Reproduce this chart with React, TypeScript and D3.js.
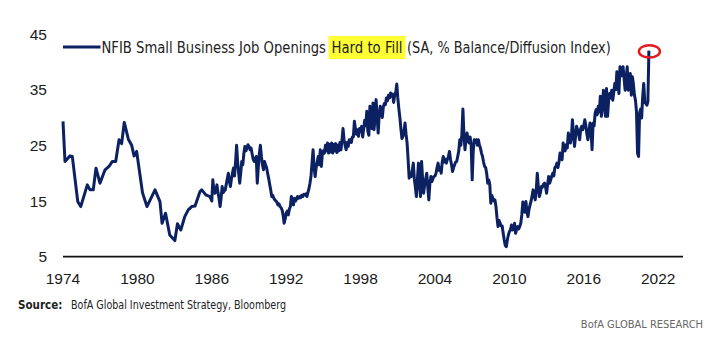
import React, { useMemo } from 'react';
import * as d3 from 'd3';

// quarterly-ish readings before the survey went monthly
const earlyDates = [
  1974.0, 1974.16, 1974.56, 1974.75, 1975.19, 1975.43, 1975.96, 1976.18, 1976.44, 1976.66,
  1976.98, 1977.39, 1977.71, 1977.98, 1978.25, 1978.52, 1978.73, 1978.94, 1979.27, 1979.54,
  1979.73, 1979.94, 1980.41, 1980.77, 1981.42, 1981.82, 1981.99, 1982.27, 1982.61, 1983.02,
  1983.23, 1983.5, 1983.82, 1984.1, 1984.38, 1984.65, 1985.05, 1985.19, 1985.52, 1985.85,
];
const earlyValues = [
  29.3, 22.1, 23.1, 23, 14.9, 14, 17.9, 17, 17, 20.9,
  18.2, 20.6, 21.2, 22.1, 22.1, 26, 25.3, 29.1, 26.1, 25,
  23.1, 23.9, 16.5, 14, 17, 14.9, 11, 12.8, 8.9, 7.9,
  10.9, 9.8, 12.2, 13.4, 14, 14.1, 16.7, 17, 16.1, 15.8,
];

const monthlyStart = 1986;
const monthly1986to1995 = [
  15, 18.8, 17, 16.4, 17, 17.9, 16.5, 15.5, 14, 15.5, 17.6, 16.5,
  16.8, 17, 18, 19, 20, 18.5, 17.6, 19, 20, 20.9, 19.5, 22,
  25, 22, 20, 18.2, 20, 22.1, 21.5, 23.5, 24.8, 24, 24.5, 25.1,
  24.8, 24.2, 24.5, 23.5, 22.5, 22.1, 22.5, 23, 18.2, 21, 23.5, 25,
  23, 21.5, 20.6, 22.1, 21.5, 21, 20, 19.1, 18, 17, 15.8, 16,
  15.5, 15.2, 15, 14.8, 14.3, 14.5, 14, 13.8, 13.4, 12.5, 11, 11.8,
  12.8, 13.2, 12.5, 13.5, 14, 15.8, 14.8, 14.3, 15.5, 15, 15.3, 15.8,
  15.5, 15.8, 15.6, 16, 15.8, 16.2, 16.1, 16.3, 15.8, 16.5, 17.2, 18.2,
  19.5, 21.8, 24.2, 21, 19.4, 21, 22, 23, 21.5, 24.2, 21.2, 23.5,
  24, 23.6, 25, 24, 25.4, 23.6, 25.2, 23.8, 25.4, 23.6, 25.2, 24,
];
const monthly1996to2005 = [
  25.3, 23.7, 25, 24, 25.5, 24.2, 26, 28, 26, 25, 24.2, 25.5,
  24.8, 26, 26, 25.5, 26.5, 26.5, 29.3, 28, 27, 27.8, 26.6, 28,
  27.5, 28.4, 26.5, 28, 29.5, 28.5, 31.1, 27.5, 26.8, 32, 30, 28,
  32.6, 27.8, 30, 33.2, 30, 27.2, 30.5, 32, 31.4, 30, 31.9, 32.5,
  32.3, 33.5, 33, 34, 33.5, 34.4, 33.8, 34.2, 32.7, 34, 34.5, 36,
  33.5, 31.6, 30, 28, 26.2, 26.6, 27.5, 29, 27, 25.4, 22.4, 19.1,
  20, 19.4, 20.5, 21.8, 19, 17.5, 15.8, 19, 21.8, 18, 15.8, 22.1,
  19, 16.4, 18, 19, 20, 17.5, 15.2, 18, 19.4, 18.5, 19, 19.4,
  19.5, 20, 21, 21.8, 20.5, 21, 20, 22, 23, 22, 22.5, 21.8,
  22.5, 23, 23.9, 22.5, 21.5, 20.3, 21, 21.5, 22, 22.1, 23, 24,
];
const monthly2006to2015 = [
  26, 25, 27, 31.5, 27, 24.2, 26, 27.2, 26, 25.4, 26.5, 25,
  18.8, 24, 26, 25.5, 26, 25, 26, 25, 24.5, 23.6, 23, 22,
  21.2, 21, 20, 18.2, 18.8, 18, 14.6, 16, 15.5, 15, 15.2, 14,
  12, 10.4, 11.5, 11, 10.5, 10.5, 9.2, 8, 7, 6.8, 8, 8.9,
  9.5, 9.8, 10.7, 9.8, 10, 11, 9.2, 10, 10.4, 10, 10.4, 11,
  12.5, 14.8, 13.5, 13, 14.9, 13, 12.2, 13.5, 14.3, 15, 16, 17,
  16, 15.2, 17, 20, 17.5, 15.8, 16.5, 17.6, 17.5, 18, 18.2, 17.5,
  16.4, 18, 19.4, 18.2, 18.8, 19.5, 20, 19.5, 21, 21.2, 21.8, 21,
  22, 23.6, 23, 22.4, 25.4, 24.5, 24, 25.1, 24.5, 27.2, 26, 25.4,
  26.5, 29.6, 27, 24.8, 26.5, 28.4, 27.8, 27, 26, 28, 28.4, 27.8,
];
const monthly2016to2021 = [
  28.5, 29.6, 28.5, 27, 26, 27.5, 29, 27.5, 24.2, 29, 28.5, 30.8,
  31.4, 30.5, 32, 31, 33.8, 30.2, 32, 34.9, 32, 30.2, 35.2, 30.2,
  33, 34.3, 33.5, 34.9, 33.1, 34.5, 36.1, 35, 38.2, 36.5, 34.3, 39.1,
  38.5, 37.5, 39.1, 37, 34.9, 37, 39.1, 34.9, 36.5, 37.9, 34, 37.3,
  36, 34, 33.1, 31, 23.6, 23, 30.8, 31.5, 29.9, 33.8, 36.1, 32.8,
  32.5, 32.2, 32.8, 42,
];

const yTicks = [5, 15, 25, 35, 45];
const xTicks = [1974, 1980, 1986, 1992, 1998, 2004, 2010, 2016, 2022];

const navy = '#0b2161';
const labelFont = '"Liberation Sans", Arial, sans-serif';
const narrowFont = '"Liberation Sans Narrow", "DejaVu Sans Condensed", "Liberation Sans", Arial, sans-serif';

interface Point {
  date: number;
  value: number;
}

const App: React.FC = () => {
  const width = 708;
  const height = 353;

  const x = d3.scaleLinear().domain([1974, 2024]).range([63, 683]);
  const y = d3.scaleLinear().domain([5, 45]).range([256.7, 33.9]);

  const points: Point[] = useMemo(() => {
    const early = earlyDates.map((d, i) => ({ date: d, value: earlyValues[i] }));
    const monthly = [...monthly1986to1995, ...monthly1996to2005, ...monthly2006to2015, ...monthly2016to2021].map(
      (v, i) => ({ date: monthlyStart + i / 12, value: v })
    );
    return [...early, ...monthly];
  }, []);

  const line = d3
    .line<Point>()
    .x((d) => x(d.date))
    .y((d) => y(d.value));

  const last = points[points.length - 1];

  return (
    <svg
      width={width}
      height={height}
      style={{ position: 'absolute', left: 0, top: 0, background: '#fff' }}
    >
      {/* y labels */}
      {yTicks.map((t) => (
        <text
          key={t}
          x={47}
          y={y(t) + 5.6}
          textAnchor="end"
          fontFamily={labelFont}
          fontSize={15.5}
          fill="#1a1a1a"
        >
          {t}
        </text>
      ))}

      {/* x axis */}
      <line x1={x(1974)} x2={x(2024)} y1={y(5)} y2={y(5)} stroke="#111" strokeWidth={1.7} />
      {xTicks.map((t) => (
        <text
          key={t}
          x={x(t)}
          y={283.5}
          textAnchor="middle"
          fontFamily={labelFont}
          fontSize={15.5}
          fill="#1a1a1a"
        >
          {t}
        </text>
      ))}

      {/* legend */}
      <line x1={63} x2={100.5} y1={47} y2={47} stroke={navy} strokeWidth={3} />
      <rect x={328.5} y={36} width={77} height={23} fill="#ffff33" />
      <text y={53} fontFamily={narrowFont} fontSize={15} fill="#222">
        <tspan x={101.5} textLength={224.5} lengthAdjust="spacingAndGlyphs">
          NFIB Small Business Job Openings
        </tspan>
        <tspan x={331.5} textLength={71} lengthAdjust="spacingAndGlyphs">
          Hard to Fill
        </tspan>
        <tspan x={407} textLength={203.7} lengthAdjust="spacingAndGlyphs">
          (SA, % Balance/Diffusion Index)
        </tspan>
      </text>

      {/* series */}
      <path d={line(points) ?? ''} fill="none" stroke={navy} strokeWidth={3} strokeLinejoin="round" />

      {/* highlight on latest print */}
      <ellipse cx={x(last.date) + 0.5} cy={y(last.value) + 0.8} rx={10.5} ry={6.2} fill="none" stroke="#e5171f" strokeWidth={2.5} />

      {/* footer */}
      <text y={309} fontFamily={narrowFont} fontSize={11.5} fill="#222">
        <tspan x={18} fontWeight="bold">Source:</tspan>
        <tspan x={71} textLength={215} lengthAdjust="spacingAndGlyphs">
          BofA Global Investment Strategy, Bloomberg
        </tspan>
      </text>
      <text x={703} y={328} textAnchor="end" fontFamily={narrowFont} fontSize={11} fill="#666">
        BofA GLOBAL RESEARCH
      </text>
    </svg>
  );
};

export default App;
